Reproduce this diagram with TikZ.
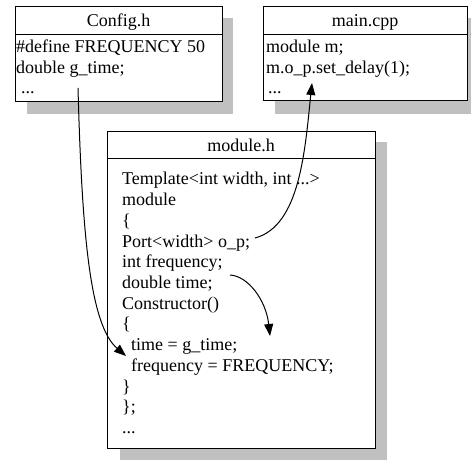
\documentclass[tikz,border=0pt]{standalone}
\usepackage{fontspec}
\setmainfont{Liberation Serif}
\usetikzlibrary{arrows.meta,calc}
\definecolor{shadowgray}{RGB}{192,192,192}
\newcommand\codefont{\fontsize{18bp}{20.7bp}\selectfont}
\begin{document}
\begin{tikzpicture}[x=1bp,y=-1bp,
  filebox/.style={draw=black,fill=white,line width=1bp,inner sep=0pt,anchor=north west},
  shadowfill/.style={fill=shadowgray,draw=none},
  headrule/.style={draw=black,line width=1bp},
  txt/.style={anchor=base west,inner sep=0pt,font=\codefont},
  hdr/.style={anchor=base,inner sep=0pt,font=\codefont},
  link/.style={draw=black,line width=1bp,-{Triangle[length=12bp,width=9bp]}}]
\useasboundingbox (0,0) rectangle (471,460);

% shadows
\fill[shadowfill] (27,18) rectangle (233,114);
\fill[shadowfill] (275,18) rectangle (479,114);
\fill[shadowfill] (120,142) rectangle (387,460);

% boxes
\node[filebox,minimum width=207bp,minimum height=95bp] (config) at (15,6) {};
\node[filebox,minimum width=204bp,minimum height=94bp] (main) at (263,6) {};
\node[filebox,minimum width=268bp,minimum height=317bp] (module) at (107,131) {};

% header rules
\draw[headrule] ($(config.north west)+(0,29)$) -- ($(config.north east)+(0,29)$);
\draw[headrule] ($(main.north west)+(0,29)$) -- ($(main.north east)+(0,29)$);
\draw[headrule] ($(module.north west)+(0,28)$) -- ($(module.north east)+(0,28)$);

% headers
\node[hdr] (hconfig) at (118.5,26.5) {Config.h};
\node[hdr] (hmain) at (365,26.5) {main.cpp};
\node[hdr] (hmodule) at (241,152) {module.h};

% Config.h text
\node[txt] (c1) at (16,53) {\#define FREQUENCY 50};
\node[txt] (c2) at (16,73.5) {double g\_time;};
\node[txt] (c3) at (21,94) {...};

% main.cpp text
\node[txt] (p1) at (266,53) {module m;};
\node[txt] (p2) at (266,73.5) {m.o\_p.set\_delay(1);};
\node[txt] (p3) at (268,94) {...};

% module.h text
\node[txt] (m1) at (122,185) {Template<int width, int ...>};
\node[txt] (m2) at (122,205.7) {module};
\node[txt] (m3) at (122,226.4) {\{};
\node[txt] (m4) at (122,247.1) {Port<width> o\_p;};
\node[txt] (m5) at (122,267.8) {int frequency;};
\node[txt] (m6) at (122,288.5) {double time;};
\node[txt] (m7) at (122,309.2) {Constructor()};
\node[txt] (m8) at (122,329.9) {\{};
\node[txt] (m9) at (131,350.6) {time = g\_time;};
\node[txt] (m10) at (131,371.3) {frequency = FREQUENCY;};
\node[txt] (m11) at (122,392) {\}};
\node[txt] (m12) at (122,412.7) {\};};
\node[txt] (m13) at (122,433.4) {...};

% connector end points
\coordinate (gtimeOut) at (78,88);
\coordinate (timeIn) at (126,356);
\coordinate (portOut) at (255,238);
\coordinate (callIn) at (312,83);
\coordinate (freqOut) at (230,275);
\coordinate (freqIn) at (270,336);

% connectors
\draw[link] (gtimeOut) .. controls (82,235) and (90,325) .. (timeIn);
\draw[link] (portOut) .. controls (300,226) and (305,150) .. (callIn);
\draw[link] (freqOut) .. controls (248,276) and (266,300) .. (freqIn);
\end{tikzpicture}
\end{document}
